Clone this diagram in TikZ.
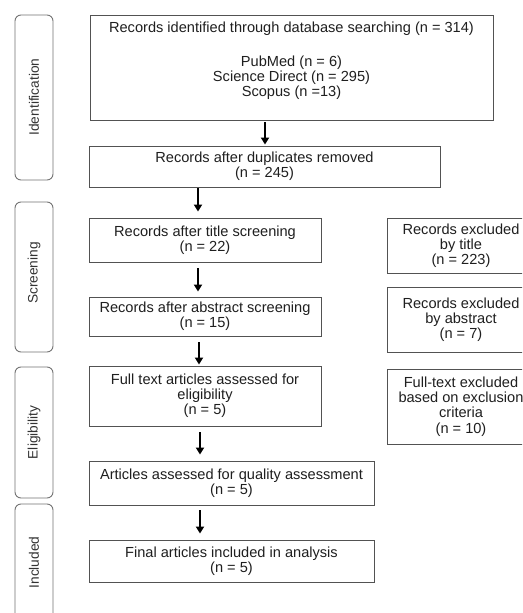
\documentclass[tikz,border=0pt]{standalone}
\usepackage{fontspec}
\setmainfont{Liberation Sans}
\usetikzlibrary{arrows.meta,calc}
\begin{document}
\begin{tikzpicture}[x=1pt,y=-1pt,
  txtfont/.style={font=\fontsize{14.6}{15.2}\selectfont, text=black!88},
  box/.style={draw=black!68, line width=0.9pt, inner sep=0pt, align=center, txtfont},
  plain/.style={inner sep=0pt, align=center, txtfont},
  side/.style={draw=black!55, line width=0.9pt, rounded corners=6pt, inner sep=0pt},
  sidelabel/.style={rotate=90, inner sep=0pt, font=\fontsize{13.7}{15}\selectfont, text=black!80},
  arr/.style={line width=1.8pt, -{Triangle[length=7pt,width=8pt]}}]
\useasboundingbox (0,0) rectangle (522,613);
\clip (0,0) rectangle (522,613);
\fill[white] (0,0) rectangle (522,613);

% side phase boxes
\node[side, minimum width=38pt, minimum height=165pt] (s1) at (34,97.5) {};
\node[side, minimum width=38pt, minimum height=150pt] (s2) at (34,277) {};
\node[side, minimum width=38pt, minimum height=131pt] (s3) at (34,432.5) {};
\node[side, minimum width=38pt, minimum height=136pt] (s4) at (34,572) {};
\node[sidelabel] (l1) at (34,97) {Identification};
\node[sidelabel] (l2) at (34,273) {Screening};
\node[sidelabel] (l3) at (34,432.5) {Eligibility};
\node[sidelabel] (l4) at (34,562.5) {Included};

% main boxes
\node[box, minimum width=403pt, minimum height=105pt] (b1) at (291.5,67.5) {};
\node[plain, anchor=base] (t1) at (291.5,32) {Records identified through database searching (n = 314)};
\node[plain, anchor=base] (t2) at (291.5,66) {PubMed (n = 6)};
\node[plain, anchor=base] (t3) at (291.5,81) {Science Direct (n = 295)};
\node[plain, anchor=base] (t4) at (291.5,96) {Scopus (n =13)};

\node[box, minimum width=351pt, minimum height=41pt] (b2) at (264.5,166.5) {Records after duplicates removed\\(n = 245)};
\node[box, minimum width=232pt, minimum height=44pt] (b3) at (205,240) {Records after title screening\\(n = 22)};
\node[box, minimum width=232pt, minimum height=39pt] (b4) at (205,316.5) {Records after abstract screening\\(n = 15)};
\node[box, minimum width=232pt, minimum height=60pt] (b5) at (205,396) {Full text articles assessed for\\eligibility\\(n = 5)};
\node[box, minimum width=285pt, minimum height=44pt] (b6) at (231.5,483) {Articles assessed for quality assessment\\(n = 5)};
\node[box, minimum width=285pt, minimum height=42pt] (b7) at (231.5,561) {Final articles included in analysis\\(n = 5)};

% excluded boxes
\node[box, minimum width=148pt, minimum height=55pt] (e1) at (461,245.5) {Records excluded\\by title\\(n = 223)};
\node[box, minimum width=148pt, minimum height=65pt] (e2) at (461,319.5) {Records excluded\\by abstract\\(n = 7)};
\node[box, minimum width=148pt, minimum height=75pt] (e3) at (461,406.5) {Full-text excluded\\based on exclusion\\criteria\\(n = 10)};

% arrows
\coordinate (x1) at (265,0);
\coordinate (x2) at (198,0);
\coordinate (x3) at (199,0);
\coordinate (x4) at (200,0);
\draw[arr, shorten <=2pt, shorten >=1pt] (b1.south -| x1) -- (b2.north -| x1);
\draw[arr, shorten <=1pt, shorten >=6pt] (b2.south -| x2) -- (b3.north -| x2);
\draw[arr, shorten <=6pt, shorten >=5pt] (b3.south -| x2) -- (b4.north -| x2);
\draw[arr, shorten <=6pt, shorten >=1pt] (b4.south -| x3) -- (b5.north -| x3);
\draw[arr, shorten <=6pt, shorten >=6pt] (b5.south -| x4) -- (b6.north -| x4);
\draw[arr, shorten <=5pt, shorten >=6pt] (b6.south -| x4) -- (b7.north -| x4);
\end{tikzpicture}
\end{document}
